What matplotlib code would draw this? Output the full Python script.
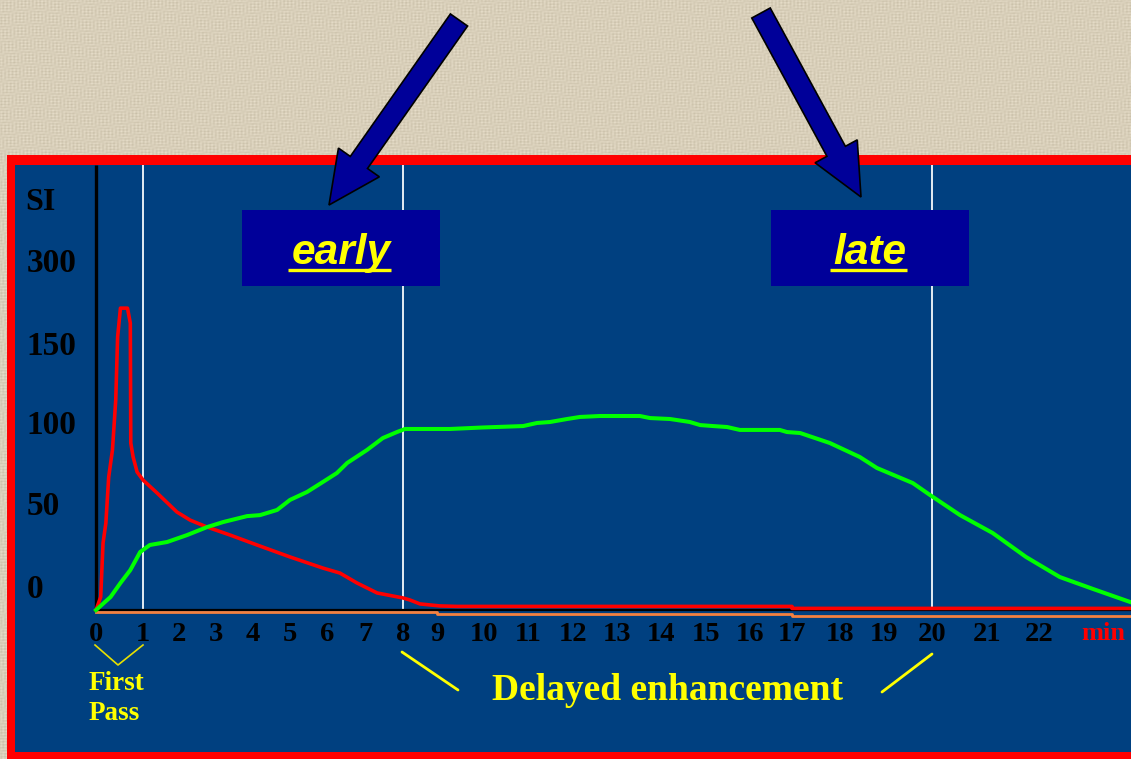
import numpy as np
import matplotlib
matplotlib.use("Agg")
import matplotlib.pyplot as plt
from matplotlib.patches import Rectangle, Polygon

# ---------------- data ----------------
# time axis tick labels (minutes) and signal-intensity tick labels
x_ticks = list(range(0, 23))
y_ticks = [0, 50, 100, 150, 300]
y_tick_labels = ["0", "50", "100", "150", "300"]

# blood-pool curve (first pass bolus)
red_t = [0, 0.10, 0.15, 0.21, 0.27, 0.35, 0.42, 0.46, 0.52, 0.67, 0.73, 0.74,
         0.79, 0.875, 1.0, 1.39, 1.94, 2.30, 2.76, 3.38, 4.11, 5.0, 5.89, 6.34,
         6.79, 7.32, 8.0, 8.2, 8.5, 9.06, 9.43, 17.0, 17.0, 23.8]
red_si = [-14.5, -6.6, 25.9, 37.9, 66.0, 82.7, 113.9, 160.8, 213, 213, 186, 87,
          78.4, 69.1, 64.2, 56.2, 44.6, 39.7, 35.5, 30.7, 24.7, 17.5, 10.8, 7.8,
          1.8, -4.2, -7.2, -8.4, -10.8, -12.0, -12.3, -12.3, -13.5, -13.5]

# infarcted myocardium curve (delayed enhancement)
green_t = [0, 0.31, 0.52, 0.73, 0.94, 1.19, 1.67, 2.22, 2.76, 3.19, 3.84, 4.19,
           4.65, 5.0, 5.46, 5.89, 6.26, 6.53, 7.05, 7.47, 7.84, 8.06, 9.28, 9.96,
           10.89, 11.2, 11.49, 11.87, 12.16, 12.61, 13.52, 13.75, 14.2, 14.64,
           14.87, 15.16, 15.48, 15.77, 16.71, 16.88, 17.17, 17.79, 18.45, 18.84,
           19.6, 19.96, 20.51, 21.11, 21.75, 22.40, 23.04, 23.75]
green_si = [-14.5, -6.6, 1.8, 9.6, 20.5, 24.7, 26.5, 30.7, 35.5, 38.5, 42.1, 42.7,
            45.8, 51.9, 56.8, 63.0, 68.5, 74.7, 82.7, 90.1, 93.8, 95.7, 95.7, 96.6,
            97.5, 99.4, 100, 101.9, 103.2, 103.8, 103.8, 102.5, 101.9, 100,
            98.1, 97.5, 96.9, 95.1, 95.1, 93.8, 93.2, 87.0, 78.4, 71.6,
            62.3, 54.9, 42.7, 31.9, 17.5, 5.4, -1.8, -9.6]

# normal myocardium curve (stays near baseline)
orange_t = [0, 9, 17, 23.8]
orange_si = [-15.4, -16.6, -17.8, -17.8]

marker_minutes = [1, 8, 20]
baseline_si = -14.5

# ---------------- axis scale layout (pixel positions of the labels) ----------------
W, H = 1131, 759
x_knot_px = [96, 143, 179, 216, 253, 290, 327, 365, 403, 437, 484, 528, 573,
             617, 661, 706, 750, 792, 840, 884, 932, 987, 1039]
y_knot_px = [586, 503, 422, 343, 260]


def piecewise(xk, yk):
    xk = np.asarray(xk, float)
    yk = np.asarray(yk, float)
    s0 = (yk[1] - yk[0]) / (xk[1] - xk[0])
    s1 = (yk[-1] - yk[-2]) / (xk[-1] - xk[-2])

    def f(v):
        v = np.asarray(v, float)
        out = np.interp(v, xk, yk)
        out = np.where(v < xk[0], yk[0] + (v - xk[0]) * s0, out)
        out = np.where(v > xk[-1], yk[-1] + (v - xk[-1]) * s1, out)
        return out
    return f


x_fwd = piecewise(x_ticks, x_knot_px)
x_inv = piecewise(x_knot_px, x_ticks)
neg_px = [-p for p in y_knot_px]
y_fwd = piecewise(y_ticks, neg_px)
y_inv = piecewise(neg_px, y_ticks)

x_max = float(x_inv(W))
ax_top_px, ax_bot_px = 165, 620
y_lo = float(y_inv(-ax_bot_px))
y_hi = float(y_inv(-ax_top_px))

# ---------------- colours ----------------
BEIGE = "#ded5c0"
PANEL = "#004080"
BORDER = "#ff0000"
BOX = "#000099"
YELLOW = "#ffff00"

serif = "Liberation Serif"
sans = "Liberation Sans"

fig = plt.figure(figsize=(W / 100, H / 100), dpi=100)
fig.patch.set_facecolor(BEIGE)

# background layer in pixel coordinates
bg = fig.add_axes([0, 0, 1, 1], zorder=0)
bg.set_xlim(0, W)
bg.set_ylim(H, 0)
bg.axis("off")

# woven linen texture on the beige backdrop
yy, xx = np.mgrid[0:H, 0:W]
tex = (0.5 + 0.22 * np.sin(xx * 1.7) * np.sin(yy * 0.23 + np.sin(xx * 0.05))
       + 0.22 * np.sin(yy * 2.1) * np.sin(xx * 0.19 + np.sin(yy * 0.07))
       + 0.06 * np.sin(xx * 0.9 + yy * 1.3))
bg.imshow(tex, cmap=matplotlib.colors.LinearSegmentedColormap.from_list(
    "linen", ["#c9bfa8", "#e8dfcb"]), extent=(0, W, H, 0), aspect="auto",
    zorder=0, interpolation="nearest")

bg.add_patch(Rectangle((7, 155), W, H, facecolor=BORDER, edgecolor="none", zorder=1))
bg.add_patch(Rectangle((15, 165), W, 752 - 165, facecolor=PANEL, edgecolor="none", zorder=2))

# ---------------- curve axes ----------------
ax = fig.add_axes([96 / W, 1 - ax_bot_px / H, 1 - 96 / W, (ax_bot_px - ax_top_px) / H],
                  zorder=1)
ax.patch.set_alpha(0)
ax.set_xscale("function", functions=(x_fwd, x_inv))
ax.set_yscale("function", functions=(y_fwd, y_inv))
ax.set_xlim(0, x_max)
ax.set_ylim(y_lo, y_hi)
for sp in ax.spines.values():
    sp.set_visible(False)

ax.set_xticks(x_ticks)
ax.set_xticklabels([str(t) for t in x_ticks])
ax.set_yticks(y_ticks)
ax.set_yticklabels(y_tick_labels)
ax.tick_params(axis="x", length=0, pad=1.5)
ax.tick_params(axis="y", length=0, pad=50)
for lab in ax.get_xticklabels():
    lab.set_fontfamily(serif)
    lab.set_fontweight("bold")
    lab.set_fontsize(20.5)
    lab.set_color("black")
for lab in ax.get_yticklabels():
    lab.set_fontfamily(serif)
    lab.set_fontweight("bold")
    lab.set_fontsize(24)
    lab.set_color("black")
    lab.set_horizontalalignment("left")

# axes lines and time markers
ax.vlines(marker_minutes, baseline_si, y_hi, color="#e4ecf4", lw=1.4, zorder=2)
ax.vlines(0, baseline_si, y_hi, color="black", lw=2.4, zorder=3, clip_on=False)
ax.hlines(baseline_si, 0, x_max, color="black", lw=1.6, zorder=3)

ax.plot(orange_t, orange_si, color="#f5813f", lw=2.0, drawstyle="steps-post",
        zorder=4, clip_on=False)
ax.plot(red_t, red_si, color="#ff0000", lw=2.6, zorder=5, clip_on=False)
ax.plot(green_t, green_si, color="#00ff00", lw=2.9, zorder=6, clip_on=False)

# ---------------- overlay: labels, boxes, arrows ----------------
top = fig.add_axes([0, 0, 1, 1], zorder=2)
top.set_xlim(0, W)
top.set_ylim(H, 0)
top.axis("off")
top.patch.set_alpha(0)

top.text(25, 203, "SI", fontfamily=serif, fontweight="bold", fontsize=23,
         color="black", ha="left", va="center")
top.text(1103, 634, "min", fontfamily=serif, fontweight="bold", fontsize=19,
         color="#ff0000", ha="center", va="center")

# first-pass bracket
top.plot([95, 118, 143], [645, 665, 645], color="#e8e000", lw=1.2)
top.text(89, 683, "First", fontfamily=serif, fontweight="bold", fontsize=19.5,
         color=YELLOW, ha="left", va="center")
top.text(89, 713, "Pass", fontfamily=serif, fontweight="bold", fontsize=19.5,
         color=YELLOW, ha="left", va="center")

# delayed-enhancement annotation
top.plot([402, 458], [652, 690], color=YELLOW, lw=2.0, solid_capstyle="round")
top.plot([882, 932], [692, 654], color=YELLOW, lw=2.0, solid_capstyle="round")
top.text(667, 690, "Delayed enhancement", fontfamily=serif, fontweight="bold",
         fontsize=27, color=YELLOW, ha="center", va="center")

# phase boxes
for (x0, x1), word in [((242, 440), "early"), ((771, 969), "late")]:
    top.add_patch(Rectangle((x0, 210), x1 - x0, 76, facecolor=BOX, edgecolor="none"))
    t = top.text((x0 + x1) / 2, 264, word, fontfamily=sans, fontweight="bold",
                 fontstyle="italic", fontsize=30.5, color=YELLOW, ha="center",
                 va="baseline")
    fig.canvas.draw()
    bb = t.get_window_extent().transformed(top.transData.inverted())
    top.plot([min(bb.x0, bb.x1) - 3, max(bb.x0, bb.x1)], [269.5, 269.5],
             color=YELLOW, lw=2.4, solid_capstyle="butt")


def block_arrow(tail, tip, shaft_w, head_w, head_len):
    tail = np.asarray(tail, float)
    tip = np.asarray(tip, float)
    d = tip - tail
    d /= np.hypot(*d)
    n = np.array([-d[1], d[0]])
    neck = tip - d * head_len
    pts = [tail + n * shaft_w / 2, neck + n * shaft_w / 2, neck + n * head_w / 2,
           tip, neck - n * head_w / 2, neck - n * shaft_w / 2, tail - n * shaft_w / 2]
    top.add_patch(Polygon(pts, closed=True, facecolor=BOX, edgecolor="black",
                          lw=1.2, joinstyle="miter"))


block_arrow((459, 20), (329, 205), 21, 50, 52)
block_arrow((761, 13), (861, 197), 21, 48, 52)

fig.savefig("out.png", dpi=100, facecolor=BEIGE)
